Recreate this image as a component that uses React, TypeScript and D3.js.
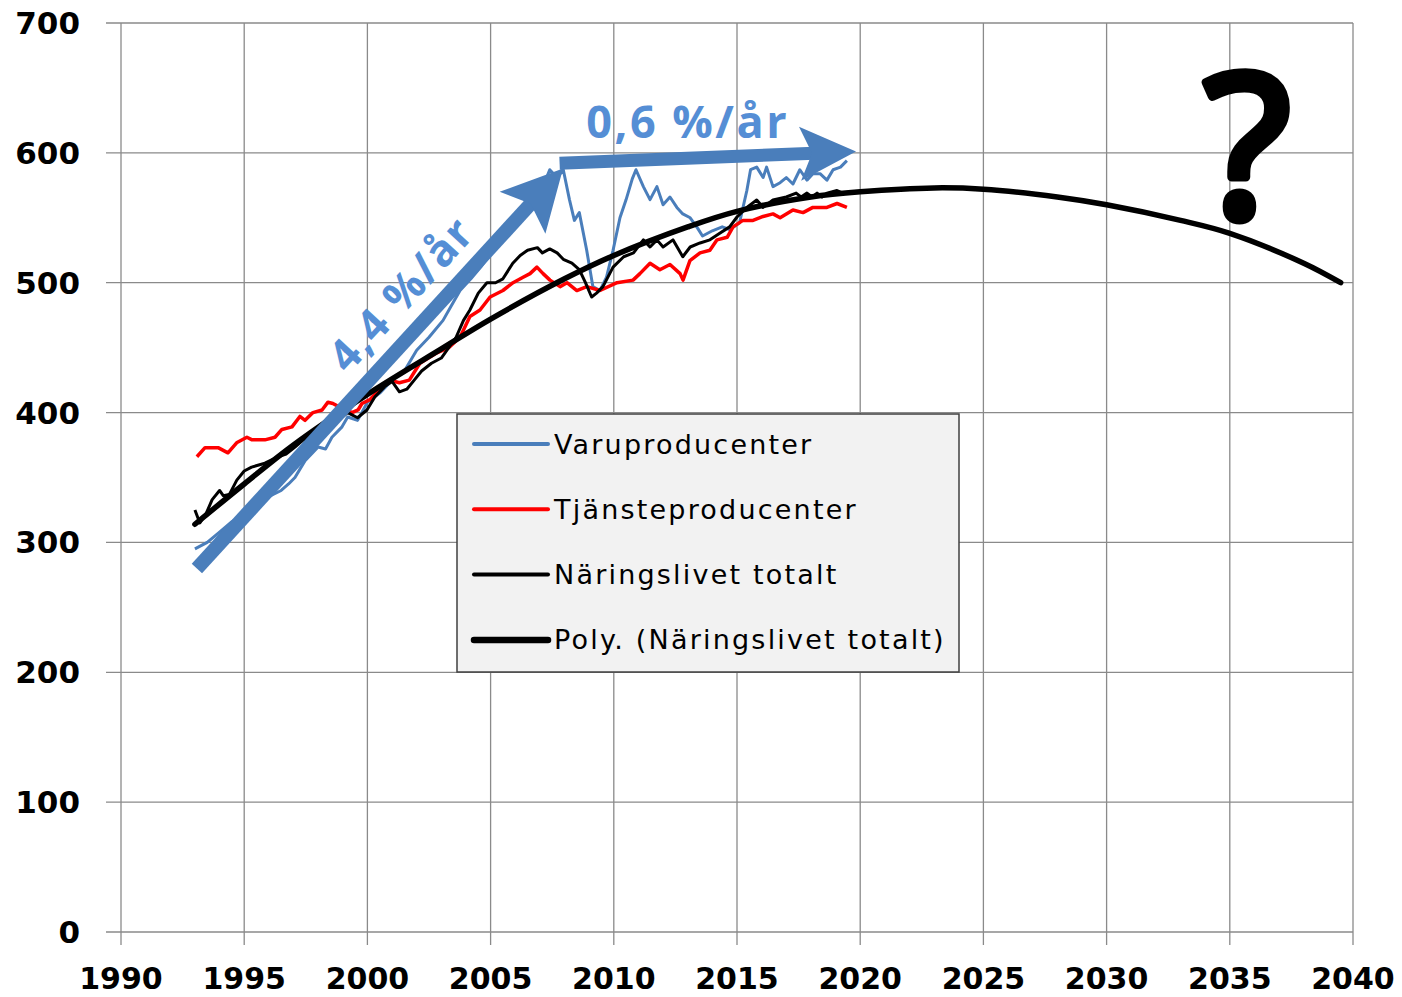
import React from "react";
import * as d3 from "d3";

const X_TICKS = [1990, 1995, 2000, 2005, 2010, 2015, 2020, 2025, 2030, 2035, 2040];
const Y_TICKS = [0, 100, 200, 300, 400, 500, 600, 700];

const varuproducenter: [number, number][] = [
  [1993.0, 295], [1993.5, 300], [1994.0, 308], [1994.5, 316], [1995.0, 322], [1995.5, 330],
  [1995.97, 335], [1996.5, 340], [1996.8, 345], [1997.06, 350], [1997.47, 363], [1998.0, 373.5],
  [1998.3, 372], [1998.56, 381], [1998.97, 389], [1999.2, 396.6], [1999.6, 394], [2000.0, 408],
  [2000.5, 415], [2001.0, 425], [2001.5, 432], [2002.0, 448], [2002.5, 458], [2003.07, 471],
  [2003.4, 482], [2003.76, 494], [2004.2, 503], [2004.6, 512], [2005.0, 522], [2005.5, 533],
  [2006.0, 545], [2006.5, 556], [2007.0, 568], [2007.4, 587], [2007.7, 581], [2007.95, 587],
  [2008.2, 564], [2008.4, 548], [2008.6, 554], [2008.9, 525], [2009.15, 497], [2009.44, 494],
  [2009.7, 504], [2009.97, 525], [2010.25, 550], [2010.5, 564], [2010.75, 580], [2010.9, 587],
  [2011.2, 574], [2011.47, 564], [2011.75, 574], [2012.0, 560], [2012.28, 566], [2012.56, 558],
  [2012.8, 553], [2013.1, 550], [2013.4, 542], [2013.6, 536], [2014.0, 540], [2014.4, 543],
  [2014.7, 541], [2015.1, 546], [2015.4, 571], [2015.55, 587], [2015.8, 589], [2016.06, 581],
  [2016.2, 589], [2016.46, 574], [2016.75, 577], [2017.0, 581], [2017.27, 576], [2017.55, 587],
  [2017.84, 579], [2018.08, 584], [2018.37, 584], [2018.65, 579], [2018.9, 587], [2019.2, 589],
  [2019.46, 594],
];

const tjansteproducenter: [number, number][] = [
  [1993.08, 366], [1993.41, 373], [1993.94, 373], [1994.34, 369], [1994.71, 377], [1995.11, 381],
  [1995.32, 379], [1995.84, 379], [1996.25, 381], [1996.53, 387], [1996.94, 389], [1997.26, 397],
  [1997.47, 394], [1997.79, 400], [1998.16, 402], [1998.4, 408], [1998.6, 407], [1998.89, 404],
  [1999.38, 400], [1999.62, 402], [1999.78, 407], [2000.1, 410], [2000.5, 418], [2000.9, 425],
  [2001.3, 423], [2001.7, 425], [2002.13, 438], [2002.82, 446], [2003.3, 450], [2003.76, 458],
  [2004.16, 474], [2004.57, 479], [2004.98, 489], [2005.5, 494], [2005.91, 500], [2006.3, 504],
  [2006.6, 507], [2006.88, 512], [2007.13, 507], [2007.41, 502], [2007.82, 497], [2008.1, 500],
  [2008.5, 494], [2008.9, 497], [2009.44, 494], [2010.13, 500], [2010.78, 502], [2011.06, 507],
  [2011.47, 515], [2011.87, 510], [2012.28, 514], [2012.69, 507], [2012.81, 502], [2013.09, 517],
  [2013.5, 523], [2013.9, 525], [2014.19, 533], [2014.6, 535], [2014.84, 543], [2015.24, 548],
  [2015.65, 548], [2016.06, 551], [2016.46, 553], [2016.75, 550], [2017.27, 556], [2017.68, 554],
  [2018.08, 558], [2018.65, 558], [2019.06, 561], [2019.46, 558],
];

const naringslivet: [number, number][] = [
  [1993.0, 325], [1993.2, 315], [1993.45, 322], [1993.7, 333], [1994.0, 340], [1994.15, 336],
  [1994.4, 337], [1994.7, 348], [1995.0, 355], [1995.3, 358], [1995.84, 361], [1996.37, 366],
  [1996.7, 368], [1997.06, 373.5], [1997.4, 379], [1997.75, 381], [1998.28, 389], [1998.8, 394],
  [1999.2, 400], [1999.6, 396], [1999.98, 402], [2000.3, 412], [2000.7, 420], [2001.0, 424],
  [2001.3, 416], [2001.6, 418], [2001.9, 425], [2002.2, 432], [2002.6, 438], [2003.0, 442],
  [2003.3, 450], [2003.6, 458], [2003.9, 471], [2004.16, 479], [2004.5, 492], [2004.85, 500],
  [2005.2, 500], [2005.5, 503], [2005.9, 515], [2006.2, 521], [2006.5, 525], [2006.9, 527],
  [2007.1, 523], [2007.4, 526], [2007.7, 523], [2007.95, 518], [2008.3, 515], [2008.6, 510],
  [2008.85, 500], [2009.1, 489], [2009.3, 492], [2009.56, 497], [2009.97, 512], [2010.4, 520],
  [2010.8, 523], [2011.2, 533], [2011.47, 527.5], [2011.75, 533], [2012.0, 527.5], [2012.4, 533],
  [2012.8, 520], [2013.1, 527.5], [2013.5, 530.6], [2013.9, 533], [2014.3, 538], [2014.7, 543],
  [2015.0, 550.6], [2015.4, 558], [2015.8, 563.7], [2016.06, 558], [2016.46, 563.7], [2017.0, 566],
  [2017.4, 569], [2017.6, 566], [2017.84, 569], [2018.05, 566], [2018.25, 569], [2018.45, 566],
  [2018.65, 569], [2019.06, 571], [2019.3, 569],
];

const polyTrend: [number, number][] = [
  [1993.0, 314], [1995.0, 345], [1997.0, 375], [2000.0, 414], [2003.0, 449], [2005.0, 472],
  [2008.0, 503], [2010.0, 521], [2013.0, 543], [2015.0, 555], [2018.0, 566], [2020.0, 570],
  [2023.0, 573], [2025.0, 572], [2028.0, 566], [2030.0, 560], [2033.0, 548], [2035.0, 538],
  [2038.0, 515], [2039.5, 500],
];

// annotation anchors (data coordinates)
const arrowUp: [number, number][] = [[1993.08, 280], [2007.94, 588]];
const arrowFlat: [number, number][] = [[2007.8, 592], [2019.83, 601]];
const labelUp = { text: "4,4 %/år", at: [2001.32, 492] as [number, number] };
const labelFlat = { text: "0,6 %/år", at: [2013.0, 611.4] as [number, number] };
const questionMark = { text: "?", at: [2035.7, 550.5] as [number, number] };

const LEGEND = [
  { label: "Varuproducenter", color: "#4a7ebb", width: 4 },
  { label: "Tjänsteproducenter", color: "#ff0000", width: 4 },
  { label: "Näringslivet totalt", color: "#000000", width: 4 },
  { label: "Poly. (Näringslivet totalt)", color: "#000000", width: 6.5 },
];

const W = 1402;
const H = 997;
const FONT = "'DejaVu Sans', sans-serif";
const ARROW = "#4a7ebb";
const ANNOT = "#558ed5";
const GRID = "#8a8a8a";

function arrowParts(p1: [number, number], p2: [number, number], headLen: number, headHalf: number, notch: number) {
  const dx = p2[0] - p1[0];
  const dy = p2[1] - p1[1];
  const len = Math.hypot(dx, dy);
  const ux = dx / len, uy = dy / len;
  const px = -uy, py = ux;
  const bx = p2[0] - ux * headLen, by = p2[1] - uy * headLen;
  const nx = p2[0] - ux * (headLen - notch), ny = p2[1] - uy * (headLen - notch);
  const head = [
    [p2[0], p2[1]],
    [bx + px * headHalf, by + py * headHalf],
    [nx, ny],
    [bx - px * headHalf, by - py * headHalf],
  ].map((p) => p.join(",")).join(" ");
  return { shaft: [p1, [nx + ux * 2, ny + uy * 2]] as [number, number][], head };
}

export default function App() {
  const x = d3.scaleLinear().domain([1990, 2040]).range([121, 1353]);
  const y = d3.scaleLinear().domain([0, 700]).range([932, 23]);

  const line = d3.line<[number, number]>().x((d) => x(d[0])).y((d) => y(d[1]));
  const smooth = d3
    .line<[number, number]>()
    .x((d) => x(d[0]))
    .y((d) => y(d[1]))
    .curve(d3.curveCatmullRom.alpha(0.5));

  const a1 = arrowParts(
    [x(arrowUp[0][0]), y(arrowUp[0][1])],
    [x(arrowUp[1][0]), y(arrowUp[1][1])],
    60, 31, 12
  );
  const a2 = arrowParts(
    [x(arrowFlat[0][0]), y(arrowFlat[0][1])],
    [x(arrowFlat[1][0]), y(arrowFlat[1][1])],
    56, 27, 12
  );
  const angleUp =
    (Math.atan2(y(arrowUp[1][1]) - y(arrowUp[0][1]), x(arrowUp[1][0]) - x(arrowUp[0][0])) * 180) / Math.PI;

  const legendX = 457, legendY = 414, legendW = 502, legendH = 258;

  return (
    <svg
      width={W}
      height={H}
      style={{ position: "absolute", left: 0, top: 0, background: "#fff" }}
      fontFamily={FONT}
    >
      <rect x={0} y={0} width={W} height={H} fill="#ffffff" />
      {/* grid */}
      <g stroke={GRID} strokeWidth={1.3}>
        {X_TICKS.map((t) => (
          <line key={"gx" + t} x1={x(t)} x2={x(t)} y1={y(700)} y2={y(0) + 13} />
        ))}
        {Y_TICKS.map((t) => (
          <line key={"gy" + t} x1={x(1990) - 15} x2={x(2040)} y1={y(t)} y2={y(t)} />
        ))}
      </g>
      {/* axis labels */}
      <g fontWeight="bold" fill="#000">
        {Y_TICKS.map((t) => (
          <text key={"yl" + t} x={80} y={y(t)} fontSize={31} textAnchor="end" dominantBaseline="central">
            {t}
          </text>
        ))}
        {X_TICKS.map((t) => (
          <text key={"xl" + t} x={x(t)} y={989} fontSize={30} textAnchor="middle">
            {t}
          </text>
        ))}
      </g>
      {/* series */}
      <path d={line(varuproducenter) || ""} fill="none" stroke="#4a7ebb" strokeWidth={3} strokeLinejoin="round" />
      <path d={line(tjansteproducenter) || ""} fill="none" stroke="#ff0000" strokeWidth={3.5} strokeLinejoin="round" />
      <path d={line(naringslivet) || ""} fill="none" stroke="#000" strokeWidth={3} strokeLinejoin="round" />
      <path d={smooth(polyTrend) || ""} fill="none" stroke="#000" strokeWidth={5.5} strokeLinecap="round" />
      {/* arrows */}
      <line
        x1={a1.shaft[0][0]} y1={a1.shaft[0][1]} x2={a1.shaft[1][0]} y2={a1.shaft[1][1]}
        stroke={ARROW} strokeWidth={14}
      />
      <polygon points={a1.head} fill={ARROW} />
      <line
        x1={a2.shaft[0][0]} y1={a2.shaft[0][1]} x2={a2.shaft[1][0]} y2={a2.shaft[1][1]}
        stroke={ARROW} strokeWidth={13}
      />
      <polygon points={a2.head} fill={ARROW} />
      {/* annotation text */}
      <text
        x={x(labelFlat.at[0])} y={y(labelFlat.at[1])}
        textAnchor="middle" fontSize={45} fontWeight="bold" fill={ANNOT}
        fontFamily="'Open Sans', sans-serif" letterSpacing={2.5}
      >
        {labelFlat.text}
      </text>
      <text
        x={x(labelUp.at[0])} y={y(labelUp.at[1])}
        textAnchor="middle" dominantBaseline="central" fontSize={44} fontWeight="bold" fill={ANNOT}
        fontFamily="'Open Sans', sans-serif" letterSpacing={1.5}
        transform={`rotate(${angleUp}, ${x(labelUp.at[0])}, ${y(labelUp.at[1])})`}
      >
        {labelUp.text}
      </text>
      <text
        x={x(questionMark.at[0])} y={y(questionMark.at[1])}
        textAnchor="middle" fontSize={200} fontWeight="normal" fill="#000"
        stroke="#000" strokeWidth={9} strokeLinejoin="round"
        fontFamily="'Noto Sans', sans-serif"
      >
        {questionMark.text}
      </text>
      {/* legend */}
      <g>
        <rect x={legendX} y={legendY} width={legendW} height={legendH} fill="#f2f2f2" stroke="#404040" strokeWidth={1.5} />
        {LEGEND.map((e, i) => {
          const cy = 444 + i * 65.3;
          return (
            <g key={e.label}>
              <line x1={474} x2={548} y1={cy} y2={cy} stroke={e.color} strokeWidth={e.width} strokeLinecap="round" />
              <text x={554} y={cy} dominantBaseline="central" fontSize={27} letterSpacing={2.2} fill="#000">
                {e.label}
              </text>
            </g>
          );
        })}
      </g>
    </svg>
  );
}
